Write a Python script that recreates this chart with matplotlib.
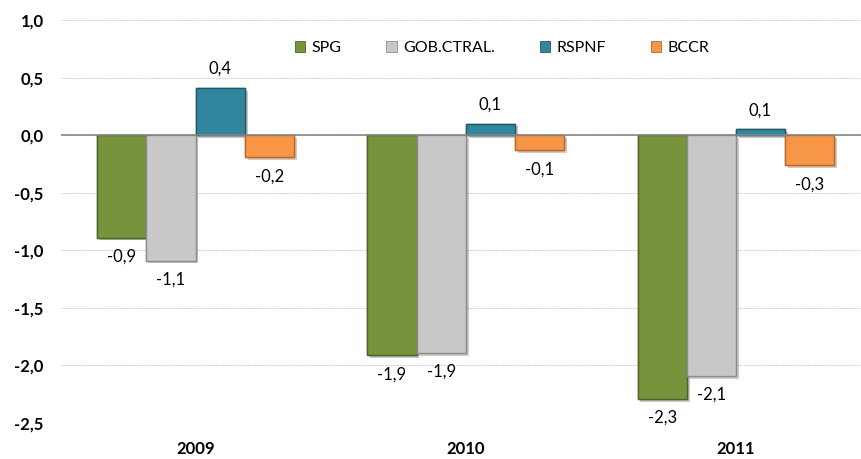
import numpy as np
import matplotlib
matplotlib.use('Agg')
import matplotlib.pyplot as plt
import matplotlib.patheffects as pe
from matplotlib.patches import Rectangle

plt.rcParams['font.family'] = ['Lato', 'DejaVu Sans']

# datos
years = ['2009', '2010', '2011']
series = ['SPG', 'GOB.CTRAL.', 'RSPNF', 'BCCR']
spg = [-0.89, -1.91, -2.29]
gob = [-1.09, -1.89, -2.09]
rspnf = [0.41, 0.10, 0.05]
bccr = [-0.19, -0.13, -0.26]
yticks = [1.0, 0.5, 0.0, -0.5, -1.0, -1.5, -2.0, -2.5]

colors = ['#77933C', '#C8C8C8', '#31859C', '#F79646']
edges = ['#4F6228', '#8C8C8C', '#215968', '#B96A2A']

fig = plt.figure(figsize=(8.61, 4.59), dpi=100)
ax = fig.add_axes([0.0703, 0.0784, 0.9413, 0.878])

x = np.arange(len(years))
w = 0.182
handles = []
for j, vals in enumerate([spg, gob, rspnf, bccr]):
    pos = x + (j - 1.5) * w
    ax.bar(pos, vals, width=w, color=colors[j], edgecolor=edges[j],
           linewidth=1.0, zorder=3,
           path_effects=[pe.withSimplePatchShadow(offset=(2, -2), alpha=0.25),
                         pe.Normal()])
    for xb, v in zip(pos, vals):
        label = f'{v:.1f}'.replace('.', ',')
        if v >= 0:
            ax.annotate(label, (xb, v), xytext=(0, 10), textcoords='offset points',
                        ha='center', va='baseline', fontsize=12, color='#000000')
        else:
            ax.annotate(label, (xb, v), xytext=(0, -8), textcoords='offset points',
                        ha='center', va='top', fontsize=12, color='#000000')
    handles.append(Rectangle((0, 0), 1, 1, facecolor=colors[j], edgecolor=edges[j], linewidth=0.6))

ax.set_xlim(-0.5, 2.5)
ax.set_ylim(-2.5, 1.0)
ax.set_yticks(yticks)
ax.set_yticklabels([f'{t:.1f}'.replace('.', ',') for t in yticks], fontweight='bold', fontsize=12)
ax.set_xticks(x)
ax.set_xticklabels(years, fontweight='bold', fontsize=12)
ax.tick_params(axis='y', length=0, pad=12)
ax.tick_params(axis='x', length=0, pad=13)

for s in ax.spines.values():
    s.set_visible(False)
ax.grid(axis='y', color='#D0D0D0', linestyle=(0, (2, 1)), linewidth=0.7, zorder=0)
ax.axhline(0, color='#868686', linewidth=1.2, zorder=4)

ax.legend(handles, series, ncol=4, loc='center', bbox_to_anchor=(0.545, 0.93),
          frameon=False, fontsize=11.5, handlelength=0.65, handleheight=0.65,
          handletextpad=0.4, columnspacing=2.8)

fig.savefig('out.png', dpi=100, facecolor='white')
